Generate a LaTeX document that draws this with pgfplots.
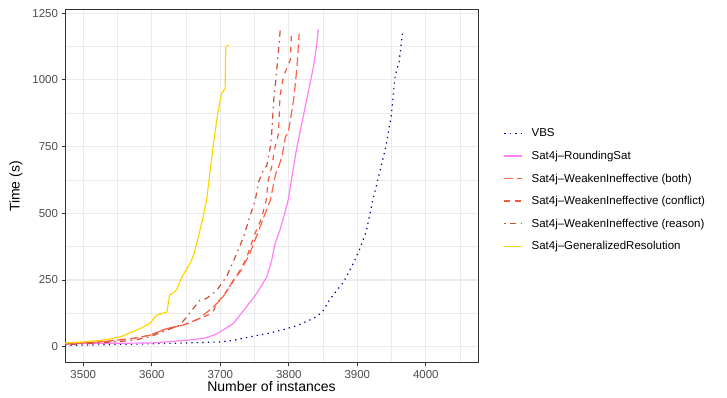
\documentclass[border=0pt]{standalone}
\usepackage{fontspec}
\setmainfont{Liberation Sans}
\usepackage{pgfplots}
\pgfplotsset{compat=1.18}
\definecolor{gridc}{HTML}{EBEBEB}
\definecolor{borderc}{HTML}{333333}
\definecolor{tickc}{HTML}{4D4D4D}
\definecolor{vbs}{HTML}{00008B}
\definecolor{rsat}{HTML}{FF80F8}
\definecolor{wboth}{HTML}{FF6347}
\definecolor{wconf}{HTML}{EE5C42}
\definecolor{wreas}{HTML}{CD4F39}
\definecolor{gres}{HTML}{FFD700}
\begin{document}
\begin{tikzpicture}[x=1pt,y=1pt]
\useasboundingbox (0,0) rectangle (727,398);
\begin{axis}[
  at={(65pt,35pt)}, anchor=south west,
  scale only axis, width=413pt, height=353pt,
  xmin=3473.3, xmax=4076.2, ymin=-61, ymax=1262,
  xtick={3500,3600,3700,3800,3900,4000},
  ytick={0,250,500,750,1000,1250},
  minor xtick={3550,3650,3750,3850,3950,4050},
  minor ytick={125,375,625,875,1125},
  grid=both,
  major grid style={draw=gridc, line width=1.1pt},
  minor grid style={draw=gridc, line width=0.55pt},
  axis line style={draw=borderc, line width=1pt},
  tick pos=left, tick align=outside,
  major tick length=3.5pt, minor tick length=0pt,
  major tick style={draw=borderc, line width=0.9pt},
  ticklabel style={font=\fontsize{11.5}{13}\selectfont, text=tickc},
  /pgf/number format/.cd, 1000 sep={}, assume math mode=true, /pgfplots/.cd,
  xlabel={Number of instances}, ylabel={Time (s)},
  label style={font=\fontsize{14}{16}\selectfont},
  xlabel style={at={(axis description cs:0.5,-0.0652)}, anchor=center},
  ylabel style={at={(axis description cs:-0.1186,0.5)}, anchor=center},
  legend cell align=left,
  legend style={at={(axis description cs:1.062,0.49)}, anchor=west, draw=none, fill=none,
    inner sep=0pt, font=\fontsize{11.5}{13}\selectfont, row sep=8.7pt,
    /tikz/every odd column/.append style={column sep=6.5pt}},
  legend image code/.code={\draw[#1, line width=1.3pt] (0pt,0pt) -- (18pt,0pt);},
  every axis plot/.append style={line width=1.2pt, line join=round},
]
\addplot[vbs, dash pattern=on 1.3pt off 4.2pt] coordinates {
(3473,5) (3550,8) (3600,11) (3650,14) (3700,18) (3719,24) (3743,37) (3768,49)
(3792,64) (3811,78) (3836,106) (3849,130) (3860,178) (3880,243) (3893,306)
(3903,362) (3913,431) (3921,530) (3923,553) (3942,753) (3950,874) (3955,1012)
(3961,1068) (3966,1174)};
\addlegendentry{VBS}
\addplot[rsat] coordinates {
(3473,10) (3500,12) (3550,13) (3600,14) (3650,24) (3675,31) (3690,43) (3700,56)
(3719,87) (3738,149) (3753,199) (3768,262) (3775,324) (3780,387) (3787,437)
(3794,499) (3799,549) (3811,737) (3821,862) (3831,987) (3836,1049) (3841,1137)
(3843,1189)};
\addlegendentry{Sat4j–RoundingSat}
\addplot[wboth, dash pattern=on 9pt off 4pt] coordinates {
(3473,10) (3524,18) (3573,31) (3597,43) (3622,68) (3646,81) (3670,106) (3675,118)
(3690,149) (3704,187) (3719,249) (3729,281) (3743,349) (3758,449) (3773,549)
(3777,599) (3781,649) (3785,674) (3790,712) (3795,787) (3799,799) (3807,924)
(3812,1049) (3815,1172)};
\addlegendentry{Sat4j–WeakenIneffective (both)}
\addplot[wconf, dash pattern=on 5.5pt off 5.5pt] coordinates {
(3473,10) (3524,18) (3573,31) (3597,43) (3622,68) (3646,81) (3670,106) (3688,125)
(3695,162) (3710,210) (3725,270) (3738,330) (3750,420) (3760,480) (3767,549)
(3770,624) (3775,674) (3780,749) (3785,799) (3787,937) (3792,1012) (3797,1043)
(3802,1074) (3804,1177)};
\addlegendentry{Sat4j–WeakenIneffective (conflict)}
\addplot[wreas, dash pattern=on 1.5pt off 4.5pt on 6pt off 4.5pt] coordinates {
(3473,7) (3524,14) (3573,24) (3597,37) (3622,62) (3641,81) (3651,112) (3670,174)
(3680,181) (3695,212) (3709,262) (3724,349) (3734,412) (3743,487) (3751,549)
(3756,618) (3763,662) (3768,680) (3773,749) (3775,799) (3778,924) (3781,999)
(3785,1112) (3788,1202)};
\addlegendentry{Sat4j–WeakenIneffective (reason)}
\addplot[gres] coordinates {
(3473,14) (3500,18) (3530,25) (3554,37) (3583,68) (3597,87) (3607,118) (3622,130)
(3626,193) (3636,212) (3644,262) (3656,312) (3661,343) (3668,412) (3675,487)
(3680,549) (3690,762) (3697,887) (3702,949) (3707,968) (3708,1124) (3712,1130)};
\addlegendentry{Sat4j–GeneralizedResolution}
\end{axis}
\end{tikzpicture}
\end{document}
